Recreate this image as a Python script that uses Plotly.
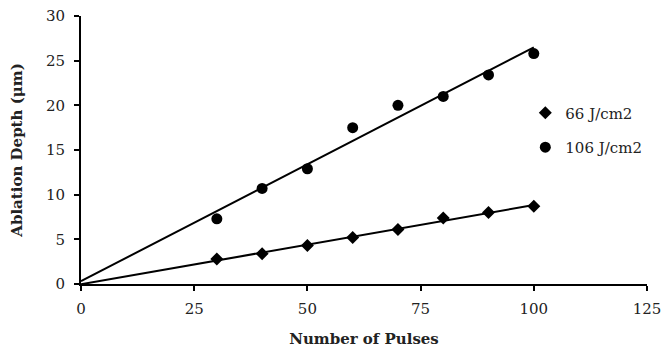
import numpy as np
import plotly.graph_objects as go

pulses = [30, 40, 50, 60, 70, 80, 90, 100]
depth_66 = [2.8, 3.4, 4.3, 5.2, 6.1, 7.4, 8.0, 8.7]
depth_106 = [7.3, 10.7, 12.9, 17.5, 20.0, 21.0, 23.4, 25.8]
series_names = ["66 J/cm2", "106 J/cm2"]
x_ticks = [0, 25, 50, 75, 100, 125]
y_ticks = [0, 5, 10, 15, 20, 25, 30]

FONT = "DejaVu Serif"
fig = go.Figure()

for ys in (depth_66, depth_106):
    slope, icpt = np.polyfit(pulses, ys, 1)
    xs = [0, max(pulses)]
    fig.add_trace(go.Scatter(x=xs, y=[icpt + slope * v for v in xs], mode="lines",
                             line=dict(color="black", width=2), showlegend=False,
                             hoverinfo="skip", cliponaxis=False))

fig.add_trace(go.Scatter(x=pulses, y=depth_66, mode="markers", name=series_names[0],
                         legendgroup="a",
                         marker=dict(symbol="diamond", size=10, color="black")))
fig.add_trace(go.Scatter(x=pulses, y=depth_106, mode="markers", name=series_names[1],
                         legendgroup="b",
                         marker=dict(symbol="circle", size=11, color="black")))

fig.update_layout(
    width=665, height=353,
    margin=dict(l=81, r=18, t=16, b=69),
    paper_bgcolor="white", plot_bgcolor="white",
    font=dict(family=FONT, size=15, color="#222"),
    legend=dict(x=0.785, y=0.70, xanchor="left", yanchor="top",
                bgcolor="rgba(0,0,0,0)", font=dict(size=15, family=FONT),
                itemwidth=30, tracegroupgap=12),
    showlegend=True,
)
fig.update_xaxes(range=[0, 125], tickvals=x_ticks, showgrid=False, zeroline=False,
                 showline=True, linecolor="black", linewidth=2, automargin=False,
                 ticks="outside", ticklen=5, tickwidth=2, tickcolor="black",
                 ticklabelstandoff=5, ticklabeloverflow="allow",
                 title=dict(text="<b>Number of Pulses</b>", font=dict(size=15, family=FONT), standoff=16))
fig.update_yaxes(range=[0, 30], tickvals=y_ticks, showgrid=False, zeroline=False,
                 showline=True, linecolor="black", linewidth=2, automargin=False,
                 ticks="outside", ticklen=5, tickwidth=2, tickcolor="black",
                 ticklabelstandoff=6, ticklabeloverflow="allow",
                 title=dict(text="<b>Ablation Depth (μm)</b>", font=dict(size=15, family=FONT), standoff=20))

# remove the default 8px page margin so the figure fills the window exactly
fig.write_html("out.html", config={"displayModeBar": False},
               post_script="document.body.style.margin='0';")
